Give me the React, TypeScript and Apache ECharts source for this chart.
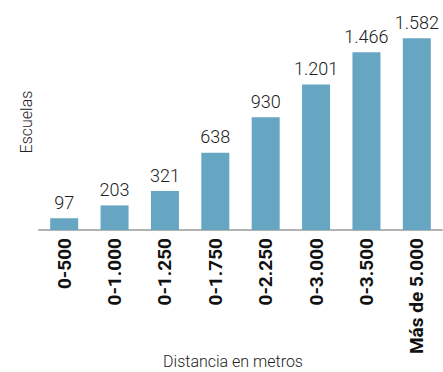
import React, { useEffect, useRef } from "react";
import * as echarts from "echarts";

const categories = ["0-500", "0-1.000", "0-1.250", "0-1.750", "0-2.250", "0-3.000", "0-3.500", "Más de 5.000"];
const escuelas = [97, 203, 321, 638, 930, 1201, 1466, 1582];
const valueLabels = ["97", "203", "321", "638", "930", "1.201", "1.466", "1.582"];

const FONT = "Roboto, 'Liberation Sans', sans-serif";

export default function App() {
  const ref = useRef<HTMLDivElement>(null);

  useEffect(() => {
    const chart = echarts.init(ref.current!, null, { renderer: "svg" });
    chart.setOption({
      animation: false,
      grid: { left: 39, right: 1, top: 36, bottom: 142 },
      xAxis: {
        type: "category",
        data: categories,
        axisLine: { show: true, lineStyle: { color: "#b3b3b3", width: 2 } },
        axisTick: { show: false },
        axisLabel: {
          rotate: 90,
          interval: 0,
          margin: 8,
          color: "#111",
          fontFamily: FONT,
          fontWeight: "bold",
          fontSize: 19,
        },
      },
      yAxis: {
        type: "value",
        min: 0,
        max: 1600,
        show: false,
        splitLine: { show: false },
      },
      series: [
        {
          type: "bar",
          data: escuelas,
          barWidth: 28,
          itemStyle: { color: "#67a6c3" },
          label: {
            show: true,
            position: "top",
            distance: 7,
            color: "#222",
            fontFamily: FONT,
            fontWeight: 300,
            fontSize: 18,
            formatter: (p: any) => valueLabels[p.dataIndex],
          },
        },
      ],
      graphic: [
        {
          type: "text",
          x: 26,
          y: 122,
          rotation: Math.PI / 2,
          style: {
            text: "Escuelas",
            fill: "#222",
            font: `300 16px ${FONT}`,
            align: "center",
            verticalAlign: "middle",
          },
        },
        {
          type: "text",
          x: 233,
          y: 361,
          style: {
            text: "Distancia en metros",
            fill: "#222",
            font: `300 16px ${FONT}`,
            align: "center",
            verticalAlign: "middle",
          },
        },
      ],
    });
    return () => chart.dispose();
  }, []);

  return <div ref={ref} style={{ width: 443, height: 372, position: "absolute", left: 0, top: 0 }} />;
}
